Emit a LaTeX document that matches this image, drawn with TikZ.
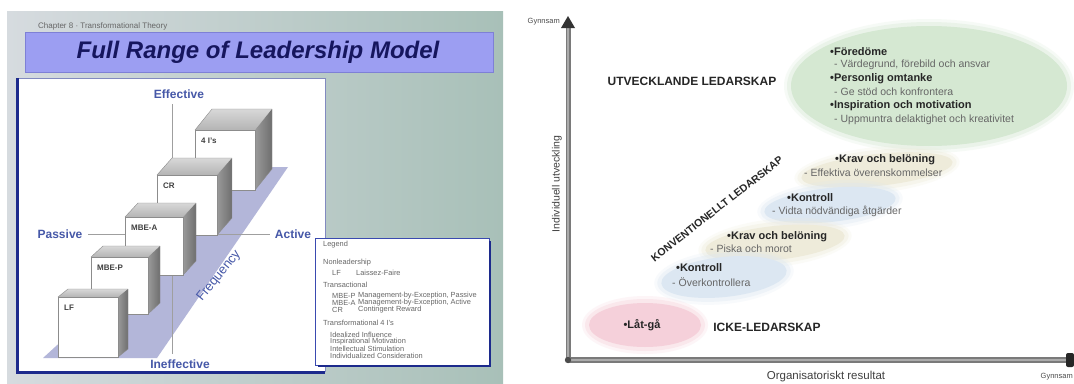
\documentclass[tikz,border=0pt]{standalone}
\usepackage{fontspec}
\setmainfont{Liberation Sans}
\usetikzlibrary{calc}
\definecolor{slideL}{HTML}{D6DBDF}
\definecolor{slideR}{HTML}{A8C0B8}
\definecolor{titlebar}{HTML}{9C9EF2}
\definecolor{titleedge}{HTML}{7E80D6}
\definecolor{titletext}{HTML}{16165E}
\definecolor{navy}{HTML}{1C2A8C}
\definecolor{legblue}{HTML}{3A4AB0}
\definecolor{axblue}{HTML}{4658A8}
\definecolor{band}{HTML}{B3B6D9}
\definecolor{cubetopL}{HTML}{D8D8D8}
\definecolor{cubetopD}{HTML}{B4B4B4}
\definecolor{cubesideL}{HTML}{9A9A9A}
\definecolor{cubesideD}{HTML}{6E6E6E}
\definecolor{greenblob}{HTML}{D5E8D2}
\definecolor{beigeblob}{HTML}{EEEBDA}
\definecolor{blueblob}{HTML}{DCE7F2}
\definecolor{pinkblob}{HTML}{F5D0DA}
\definecolor{axgrey}{HTML}{7A7A7A}
\definecolor{axlight}{HTML}{ABABAB}
\newcommand\frcube[7]{%
\begin{scope}[shift={(#2,#3)}]
 \shade[top color=cubetopL, bottom color=cubetopD] (0,0) -- (#5,-#6) -- (#4+#5,-#6) -- (#4,0) -- cycle;
 \shade[left color=cubesideL, right color=cubesideD] (#4,0) -- (#4+#5,-#6) -- (#4+#5,#4-#6) -- (#4,#4) -- cycle;
 \draw[black!45, line width=0.4pt] (0,0) -- (#5,-#6) -- (#4+#5,-#6) -- (#4+#5,#4-#6) -- (#4,#4);
 \node[fill=white, draw=black!45, line width=0.4pt, minimum size=#4pt, inner sep=0pt, anchor=north west] (#1) at (0,0) {};
 \node[cubelbl] (#1-l) at (6,8) {#7};
\end{scope}}
\newcommand\softblob[6]{%
 \foreach \e/\o in {7/0.2,4/0.35,0/1}
  \fill[#1, opacity=\o, rotate around={#6:(#2,#3)}] (#2,#3) ellipse [x radius={#4pt+\e pt}, y radius={#5pt+\e pt}];}
\begin{document}
\begin{tikzpicture}[x=1pt,y=-1pt,
  lbl/.style={font=\bfseries\fontsize{12}{14}\selectfont, text=axblue, inner sep=0pt},
  cubelbl/.style={font=\bfseries\fontsize{8}{9}\selectfont, text=black!75, anchor=north west, inner sep=0pt},
  leg/.style={font=\fontsize{7.4}{8}\selectfont, text=black!60, anchor=west, inner sep=0pt},
  rhead/.style={font=\bfseries\fontsize{11}{13}\selectfont, text=black!85, anchor=west, inner sep=0pt},
  rsub/.style={font=\fontsize{10.5}{13}\selectfont, text=black!60, anchor=west, inner sep=0pt},
  bigcaps/.style={font=\bfseries\fontsize{12}{14}\selectfont, text=black!85, inner sep=0pt},
  tinylbl/.style={font=\fontsize{7.5}{9}\selectfont, text=black!70, inner sep=0pt},
  axline/.style={gray!75, line width=0.9pt}
]
\useasboundingbox (0,0) rectangle (1074,383);
\fill[white] (0,0) rectangle (1074,383);

% ---------- left slide ----------
\shade[left color=slideL, right color=slideR] (7,11) rectangle (503,383);
\node[font=\fontsize{8}{9}\selectfont, text=black!60, anchor=west, inner sep=0pt] (chap) at (38,26) {Chapter 8 · Transformational Theory};
\node[draw=titleedge, fill=titlebar, minimum width=468pt, minimum height=40pt, anchor=north west, inner sep=0pt] (tbar) at (25,32) {};
\node[font=\bfseries\itshape\fontsize{24}{28}\selectfont, text=titletext, inner sep=0pt] (title) at (258,52) {Full Range of Leadership Model};

% frame
\node[fill=white, minimum width=308pt, minimum height=294pt, anchor=north west, inner sep=0pt] (frame) at (17,78) {};
\draw[navy!55, line width=0.8pt] (frame.north west) -- (frame.north east) -- (frame.south east);
\draw[navy, line width=3pt] (frame.north west) -- (frame.south west) -- (frame.south east);

% band
\fill[band] (43,358) -- (157,358) -- (288,167) -- (252,167) -- cycle;

% axes
\coordinate (vtop) at (172,104);
\coordinate (vbot) at (172,354);
\coordinate (hleft) at (88,234);
\coordinate (hright) at (270,234);
\draw[axline] (vtop) -- (vbot);
\draw[axline] (hleft) -- (hright);
\node[lbl] (eff) at (179,94) {Effective};
\node[lbl] (ineff) at (180,364) {Ineffective};
\node[lbl] (pas) at (60,234) {Passive};
\node[lbl] (act) at (293,234) {Active};

% cubes (back to front)
\frcube{fouri}{195}{130}{60}{17}{21}{4 I's}
\frcube{cr}{157}{175}{60}{15}{17}{CR}
\frcube{mbea}{125}{217}{58}{13}{14}{MBE-A}
\frcube{mbep}{91}{257}{57}{12}{11}{MBE-P}
\frcube{lf}{58}{297}{60}{10}{8}{LF}

\node[font=\fontsize{13}{15}\selectfont, text=axblue, rotate=51, inner sep=0pt] (freq) at (219,276) {Frequency};

% legend
\node[fill=white, draw=legblue, line width=1pt, minimum width=174pt, minimum height=127pt, anchor=north west, inner sep=0pt] (legend) at (315,238) {};
\draw[navy, line width=2.5pt] ([yshift=-3pt]legend.north east) -- (legend.south east) -- ([xshift=3pt]legend.south west);
\node[leg] (l1) at (323,245) {Legend};
\node[leg] (l2) at (323,263) {Nonleadership};
\node[leg] (l3a) at (332,273) {LF};
\node[leg] (l3b) at (356,273) {Laissez-Faire};
\node[leg] (l4) at (323,285) {Transactional};
\node[leg] (l5a) at (332,296) {MBE-P};
\node[leg] (l5b) at (358,296) {Management-by-Exception, Passive};
\node[leg] (l6a) at (332,303) {MBE-A};
\node[leg] (l6b) at (358,303) {Management-by-Exception, Active};
\node[leg] (l7a) at (332,310) {CR};
\node[leg] (l7b) at (358,310) {Contingent Reward};
\node[leg] (l8) at (323,323) {Transformational 4 I's};
\node[leg] (l9) at (330,335) {Idealized Influence};
\node[leg] (l10) at (330,342) {Inspirational Motivation};
\node[leg] (l11) at (330,349) {Intellectual Stimulation};
\node[leg] (l12) at (330,356) {Individualized Consideration};

% ---------- right chart ----------
% blobs
\softblob{greenblob}{929}{86}{138}{60}{0}
\softblob{beigeblob}{877}{170}{76}{16}{6}
\softblob{blueblob}{830}{205}{66}{17}{6}
\softblob{beigeblob}{775}{243}{70}{17}{6}
\softblob{blueblob}{724}{277}{63}{20}{6}
\softblob{pinkblob}{645}{325}{56}{22}{0}

% axes
\coordinate (origin) at (568,360);
\coordinate (ytop) at (568,22);
\coordinate (xend) at (1070,360);
\draw[axgrey, line width=5pt] (origin) -- (ytop);
\draw[axlight, line width=1.6pt] (origin) -- (ytop);
\draw[axgrey, line width=6pt] (origin) -- (xend);
\draw[axlight, line width=2pt] (origin) -- (xend);
\fill[black!80] (561,28) -- (568,16) -- (575,28) -- cycle;
\fill[black!85, rounded corners=2pt] (1066,353) rectangle (1074,367);
\fill[black!70] (origin) circle (3.2pt);

\node[tinylbl, anchor=east] (gy1) at (560,22) {Gynnsam};
\node[tinylbl, anchor=east] (gy2) at (1073,377) {Gynnsam};
\node[font=\fontsize{11.5}{13}\selectfont, text=black!75, inner sep=0pt] (xlab) at (826,377) {Organisatoriskt resultat};
\node[font=\fontsize{10.5}{12}\selectfont, text=black!75, rotate=90, inner sep=0pt] (ylab) at (557,184) {Individuell utveckling};

\node[bigcaps] (utv) at (692,81) {UTVECKLANDE LEDARSKAP};
\node[bigcaps] (icke) at (767,327) {ICKE-LEDARSKAP};
\node[bigcaps, font=\bfseries\fontsize{10.5}{12}\selectfont, rotate=38] (konv) at (717,209) {KONVENTIONELLT LEDARSKAP};

% green ellipse text
\node[rhead] (g1) at (830,52) {•Föredöme};
\node[rsub] (g2) at (834,65) {- Värdegrund, förebild och ansvar};
\node[rhead] (g3) at (830,79) {•Personlig omtanke};
\node[rsub] (g4) at (834,92) {- Ge stöd och konfrontera};
\node[rhead] (g5) at (830,106) {•Inspiration och motivation};
\node[rsub] (g6) at (834,120) {- Uppmuntra delaktighet och kreativitet};

% blobs text
\node[rhead] (b1h) at (835,160) {•Krav och belöning};
\node[rsub] (b1s) at (804,173) {- Effektiva överenskommelser};
\node[rhead] (b2h) at (787,198) {•Kontroll};
\node[rsub] (b2s) at (772,211) {- Vidta nödvändiga åtgärder};
\node[rhead] (b3h) at (727,237) {•Krav och belöning};
\node[rsub] (b3s) at (710,249) {- Piska och morot};
\node[rhead] (b4h) at (676,268) {•Kontroll};
\node[rsub] (b4s) at (672,282) {- Överkontrollera};
\node[rhead, anchor=center] (latga) at (642,325) {•Låt-gå};
\end{tikzpicture}
\end{document}
